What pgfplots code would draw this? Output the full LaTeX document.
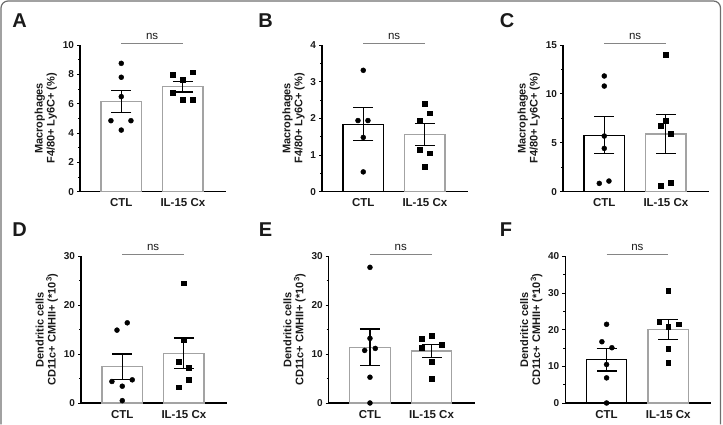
\documentclass[border=0pt]{standalone}
\usepackage{fontspec}
\setmainfont{Liberation Sans}
\usepackage{pgfplots}
\pgfplotsset{compat=1.18}

\definecolor{bargray}{HTML}{A3A3A3}
\definecolor{nsgray}{HTML}{858585}
\definecolor{framegray}{HTML}{6E6E6E}
\definecolor{txt}{HTML}{1A1A1A}

\pgfplotsset{
  panel/.style={
    scale only axis, width=146pt, height=146.7pt,
    anchor=south west,
    axis lines=left,
    axis line style={-, line width=1.2pt, black},
    xmin=0.33, xmax=2.70, ymin=0,
    xtick={1,2}, xticklabels={CTL, IL-15 Cx},
    tick align=outside,
    major tick length=3pt, minor tick length=2pt,
    minor y tick num=1,
    xtick style={yshift=3pt, line width=0.8pt, black},
    ytick style={line width=0.9pt, black},
    xticklabel style={font=\fontsize{11.5}{13}\selectfont\bfseries, yshift=-0.5pt},
    yticklabel style={font=\fontsize{10}{12}\selectfont\bfseries, xshift=0.5pt},
    tick label style={text=txt},
    /pgf/number format/assume math mode=true,
    ylabel style={font=\fontsize{11}{12}\selectfont\bfseries, align=center, text=txt, yshift=-1pt},
    clip=false,
  },
  bar/.style={ybar, bar width=40.5pt, bar shift=0pt, fill=white, line width=1.3pt, draw=#1,
    error bars/.cd, y dir=both, y explicit,
    error bar style={black, line width=1.2pt},
    error mark options={rotate=90, mark size=10pt, black, line width=1.2pt}},
  dots/.style={only marks, mark=*, mark size=2.5pt, black},
  squares/.style={only marks, mark=square*, mark size=2.4pt, black},
}

% significance bracket above both bars
\newcommand{\ns}[1]{%
  \draw[nsgray, line width=1pt] ([yshift=1.7pt]axis cs:1,#1) -- ([yshift=1.7pt]axis cs:2,#1);
  \node[anchor=base, font=\fontsize{11.5}{13}\selectfont, text=txt] at ([yshift=5.5pt]axis cs:1.5,#1) {ns};
}

\begin{document}
\begin{tikzpicture}
\path (0pt,0pt) rectangle (723pt,425pt);
\draw[framegray, line width=1.2pt, rounded corners=7pt] (1pt,0.6pt) -- (1pt,424pt) -- (720.5pt,424pt) -- (720.5pt,0.6pt);

\tikzset{letter/.style={font=\fontsize{20}{23}\selectfont\bfseries, text=txt}}
\node[letter] at (19.5pt,404pt) {A};
\node[letter] at (265.5pt,404pt) {B};
\node[letter] at (507pt,404pt) {C};
\node[letter] at (19.5pt,195.5pt) {D};
\node[letter] at (265.5pt,195.5pt) {E};
\node[letter] at (506pt,195.5pt) {F};

% A
\begin{axis}[panel, at={(80pt,233.3pt)}, ymax=10, ytick={0,2,...,10},
  ylabel={Macrophages\\F4/80+ Ly6C+ (\%)}]
\addplot[bar=bargray] coordinates {(1,6.15) +- (0,0.75)};
\addplot[bar=bargray] coordinates {(2,7.15) +- (0,0.35)};
\addplot[dots] coordinates {(1,8.75) (1,7.8) (1,6.48) (0.832,4.84) (1.157,4.84) (1,4.2)};
\addplot[squares] coordinates {(1.838,7.95) (2,7.66) (2.157,8.14) (1.838,6.75) (2,6.25) (2.157,6.25)};
\ns{10}
\end{axis}

% B
\begin{axis}[panel, at={(322pt,233.3pt)}, ymax=4, ytick={0,1,2,3,4},
  ylabel={Macrophages\\F4/80+ Ly6C+ (\%)}]
\addplot[bar=black] coordinates {(1,1.84) +- (0,0.445)};
\addplot[bar=bargray] coordinates {(2,1.56) +- (0,0.29)};
\addplot[dots] coordinates {(1,3.31) (0.914,1.94) (1.076,1.94) (1,1.48) (1,0.54)};
\addplot[squares] coordinates {(2,2.39) (2.081,2.14) (1.919,1.95) (1.919,1.15) (2.081,1.05) (2,0.68)};
\ns{4}
\end{axis}

% C
\begin{axis}[panel, at={(563pt,233.3pt)}, ymax=15, ytick={0,5,10,15},
  ylabel={Macrophages\\F4/80+ Ly6C+ (\%)}]
\addplot[bar=black] coordinates {(1,5.78) +- (0,1.91)};
\addplot[bar=bargray] coordinates {(2,5.9) +- (0,2.0)};
\addplot[dots] coordinates {(1,11.83) (1,10.8) (1,5.69) (1,4.43) (0.919,0.85) (1.076,1.09)};
\addplot[squares] coordinates {(2,13.98) (2,7.26) (1.919,6.72) (2.081,5.97) (1.919,0.61) (2.081,0.89)};
\ns{15}
\end{axis}

% D
\begin{axis}[panel, at={(81pt,22pt)}, ymax=30, ytick={0,10,20,30},
  ylabel={Dendritic cells\\CD11c+ CMHII+ (*10\textsuperscript{3})}]
\addplot[bar=bargray] coordinates {(1,7.45) +- (0,2.57)};
\addplot[bar=bargray] coordinates {(2,10.15) +- (0,3.15)};
\addplot[dots] coordinates {(0.914,14.9) (1.081,16.4) (0.832,4.4) (1.162,4.74) (1,3.43) (1,0.48)};
\addplot[squares] coordinates {(2,24.5) (2,12.97) (1.919,8.37) (2.081,7.14) (2.081,4.8) (1.919,3.23)};
\ns{30}
\end{axis}

% E
\begin{axis}[panel, at={(328.7pt,22pt)}, ymax=30, ytick={0,10,20,30},
  ylabel={Dendritic cells\\CD11c+ CMHII+ (*10\textsuperscript{3})}]
\addplot[bar=bargray] coordinates {(1,11.36) +- (0,3.77)};
\addplot[bar=bargray] coordinates {(2,10.62) +- (0,1.37)};
\addplot[dots] coordinates {(1,27.74) (1,13.22) (0.914,10.75) (1.086,11.16) (1,5.27) (1,0)};
\addplot[squares] coordinates {(1.843,13.22) (2,13.7) (1.843,11.37) (2.162,11.99) (2,8.42) (2,5.0)};
\ns{30}
\end{axis}

% F
\begin{axis}[panel, at={(565.3pt,22pt)}, ymax=40, ytick={0,10,20,30,40},
  ylabel={Dendritic cells\\CD11c+ CMHII+ (*10\textsuperscript{3})}]
\addplot[bar=black] coordinates {(1,11.8) +- (0,3.1)};
\addplot[bar=bargray] coordinates {(2,20.1) +- (0,2.7)};
\addplot[dots] coordinates {(1,21.46) (0.924,16.7) (1.086,15.07) (1,10.5) (1,6.85) (1,0)};
\addplot[squares] coordinates {(2,30.7) (1.854,22.2) (2.17,21.46) (2,20.73) (2,14.89) (2,10.96)};
\ns{40}
\end{axis}
\end{tikzpicture}
\end{document}
